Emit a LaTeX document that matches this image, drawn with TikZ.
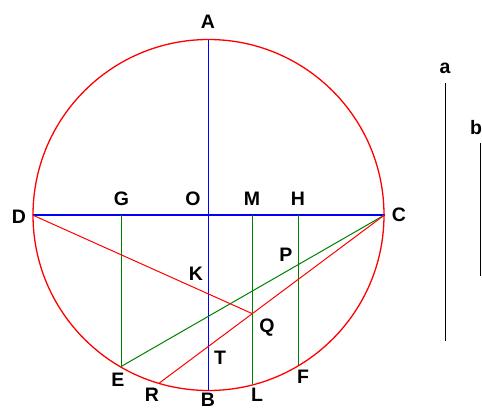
\documentclass[tikz,border=0pt]{standalone}
\usepackage{fontspec}
\setmainfont{Liberation Sans}
\usepackage{tikz}
\usetikzlibrary{calc}

\begin{document}
\begin{tikzpicture}[
  x=1pt, y=-1pt,
  lbl/.style={font=\fontsize{19.5}{19.5}\selectfont\bfseries, inner sep=0pt},
  circ/.style={red, line width=1.3pt},
  axis/.style={blue, line width=1.6pt},
  chord/.style={red, line width=1pt},
  perp/.style={green!50!black, line width=1pt},
  seg/.style={black, line width=1pt},
]
  \useasboundingbox (0,0) rectangle (482,410);

  % Centre and points on the circle
  \coordinate (O) at (208.5,215);
  \coordinate (A) at ([shift={(270:175)}]O);
  \coordinate (B) at ([shift={(90:175)}]O);
  \coordinate (C) at ([shift={(0:176)}]O);
  \coordinate (D) at ([shift={(180:176)}]O);
  \coordinate (E) at ([shift={(120:175)}]O);
  \coordinate (F) at ([shift={(59:175)}]O);
  \coordinate (L) at ([shift={(75.5:175)}]O);
  \coordinate (R) at ([shift={(106.3:175)}]O);

  % Feet on the diameter
  \coordinate (G) at (E |- O);
  \coordinate (M) at (L |- O);
  \coordinate (H) at (F |- O);

  % Crossings
  \coordinate (Q) at (intersection of C--R and M--L);
  \coordinate (K) at (intersection of D--Q and A--B);
  \coordinate (T) at (intersection of C--R and A--B);
  \coordinate (P) at (intersection of C--E and H--F);

  % Circle and diameters
  \draw[circ] (O) circle (175.5);
  \draw[axis] (A) -- (B);
  \draw[axis] (D) -- (C);

  % Perpendiculars and chords
  \draw[perp] (G) -- (E);
  \draw[perp] (M) -- (L);
  \draw[perp] (H) -- (F);
  \draw[perp] (C) -- (E);
  \draw[chord] (D) -- (Q);
  \draw[chord] (C) -- (R);

  % Given segments
  \coordinate (a1) at (445,83);
  \coordinate (a2) at (445,341);
  \coordinate (b1) at (480,143);
  \coordinate (b2) at (480,276);
  \draw[seg] (a1) -- (a2);
  \draw[seg] (b1) -- (b2);

  % Labels
  \node[lbl] (lA) at (208,22) {A};
  \node[lbl] (lB) at (208,400) {B};
  \node[lbl] (lC) at (399,215) {C};
  \node[lbl] (lD) at (19,217) {D};
  \node[lbl] (lE) at (118,380) {E};
  \node[lbl] (lF) at (303,377) {F};
  \node[lbl] (lG) at (121.5,199) {G};
  \node[lbl] (lO) at (193,199) {O};
  \node[lbl] (lM) at (252,199) {M};
  \node[lbl] (lH) at (298,199) {H};
  \node[lbl] (lP) at (286,255) {P};
  \node[lbl] (lK) at (196,274) {K};
  \node[lbl] (lQ) at (267,328) {Q};
  \node[lbl] (lT) at (220,358) {T};
  \node[lbl] (lR) at (152,395) {R};
  \node[lbl] (lL) at (257,395) {L};
  \node[lbl] (la) at (445,68) {a};
  \node[lbl] (lb) at (476,128) {b};
\end{tikzpicture}
\end{document}
